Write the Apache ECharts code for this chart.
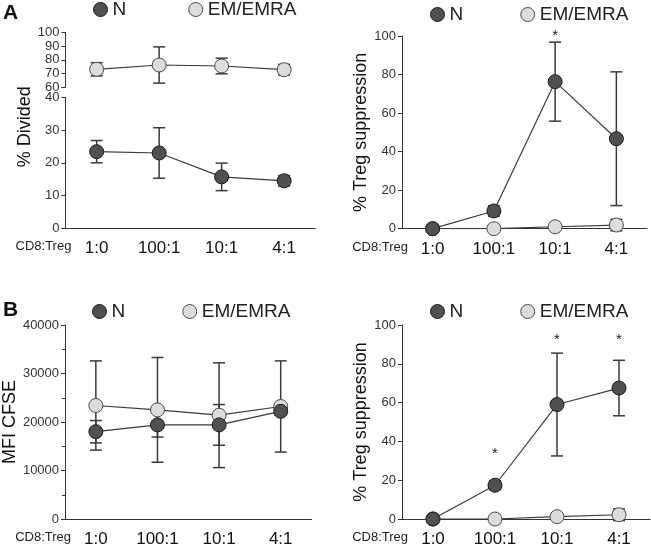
<!DOCTYPE html>
<html>
<head>
<meta charset="utf-8">
<script src="https://cdn.jsdelivr.net/npm/echarts@6/dist/echarts.min.js"></script>
<style>html,body{margin:0;padding:0;background:#fff}#chart{width:651px;height:548px}</style>
</head>
<body>
<div id="chart"></div>
<script>
const categories = ['1:0', '100:1', '10:1', '4:1'];

// A, left: % divided (broken axis)
const dividedN = [23.4, 23.0, 15.7, 14.5];
const dividedNErr = [3.4, 7.7, 4.2, 1.6];
const dividedEM = [73.1, 76.2, 75.5, 72.8];
const dividedEMErr = [4.8, 13.2, 5.7, 3.9];

// A, right: % Treg suppression
const suppANaive = [0, 9.2, 76.3, 46.7];
const suppANaiveErr = [0, 2.7, 20.5, 34.7];
const suppAEM = [0, 0, 1.0, 1.9];
const suppAEMErr = [0, 0, 0, 3];
const suppAStars = [null, null, 102, null];

// B, left: MFI CFSE
const mfiN = [18000, 19400, 19400, 22200];
const mfiNErr = [2300, 2500, 4200, 800];
const mfiEM = [23400, 22500, 21400, 23200];
const mfiEMErr = [9200, 10800, 10800, 9400];

// B, right: % Treg suppression
const suppBNaive = [0, 17.4, 59, 67.5];
const suppBNaiveErr = [0, 2.3, 26.5, 14.3];
const suppBEM = [0, 0, 1.2, 2.2];
const suppBEMErr = [0, 0, 0, 3];
const suppBStars = [null, 35.4, 94.5, 94.5];

const FONT = 'Liberation Sans, Arial, sans-serif';
const nStyle = { color: '#505050', borderColor: '#1a1a1a', borderWidth: 1 };
const emStyle = { color: '#dcdcdc', borderColor: '#4a4a4a', borderWidth: 1 };

const chart = echarts.init(document.getElementById('chart'));

const xAxis = (idx, show) => ({
    type: 'category',
    gridIndex: idx,
    data: categories,
    show: show,
    axisLine: { lineStyle: { color: '#333', width: 1 } },
    axisTick: { alignWithLabel: true, length: 4, lineStyle: { color: '#333' } },
    axisLabel: { fontSize: 17, color: '#111', margin: 12, fontFamily: FONT },
    name: 'CD8:Treg',
    nameLocation: 'start',
    nameGap: -6,
    nameTextStyle: { fontSize: 13, color: '#222', fontFamily: FONT, verticalAlign: 'top', padding: [12, 0, 0, 0] }
});

const yAxis = (idx, min, max, interval, name, extra) => Object.assign({
    type: 'value',
    gridIndex: idx,
    min: min,
    max: max,
    interval: interval,
    axisLine: { show: true, lineStyle: { color: '#333', width: 1 } },
    axisTick: { show: true, length: 4, lineStyle: { color: '#333' } },
    splitLine: { show: false },
    axisLabel: { fontSize: 13, color: '#333', margin: 6, fontFamily: FONT, formatter: v => String(v) },
    name: name,
    nameLocation: 'middle',
    nameTextStyle: { fontSize: 18, color: '#111', fontFamily: FONT }
}, extra || {});

const lineSeries = (name, data, idx, style) => ({
    name: name,
    type: 'line',
    xAxisIndex: idx,
    yAxisIndex: idx,
    data: data,
    symbol: 'circle',
    symbolSize: 14,
    itemStyle: style,
    lineStyle: { color: '#3a3a3a', width: 1.2 },
    emphasis: { disabled: true },
    z: 3
});

function renderErr(params, api) {
    const i = api.value(0), m = api.value(1), e = api.value(2);
    if (!e) return null;
    const hi = api.coord([i, m + e]);
    const lo = api.coord([i, m - e]);
    const w = 6;
    const st = { stroke: '#3a3a3a', lineWidth: 1.5 };
    return {
        type: 'group',
        children: [
            { type: 'line', shape: { x1: hi[0], y1: hi[1], x2: lo[0], y2: lo[1] }, style: st },
            { type: 'line', shape: { x1: hi[0] - w, y1: hi[1], x2: hi[0] + w, y2: hi[1] }, style: st },
            { type: 'line', shape: { x1: lo[0] - w, y1: lo[1], x2: lo[0] + w, y2: lo[1] }, style: st }
        ]
    };
}

const errSeries = (means, errs, idx) => ({
    type: 'custom',
    xAxisIndex: idx,
    yAxisIndex: idx,
    data: means.map((m, i) => [i, m, errs[i]]),
    renderItem: renderErr,
    silent: true,
    z: 2
});

function renderStar(params, api) {
    const p = api.coord([api.value(0), api.value(1)]);
    return {
        type: 'text',
        x: p[0],
        y: p[1] + 4,
        style: { text: '*', fontSize: 15, fontFamily: FONT, fill: '#222', align: 'center', verticalAlign: 'middle' }
    };
}

const starSeries = (stars, idx) => ({
    type: 'custom',
    xAxisIndex: idx,
    yAxisIndex: idx,
    data: stars.map((v, i) => [i, v]).filter(d => d[1] !== null),
    renderItem: renderStar,
    silent: true,
    clip: false,
    z: 4
});

const legend = (left, top, gap) => ({
    left: left,
    top: top,
    padding: 0,
    itemGap: gap,
    itemWidth: 14,
    itemHeight: 14,
    icon: 'circle',
    selectedMode: false,
    textStyle: { fontSize: 19, color: '#222', fontFamily: FONT },
    data: [{ name: 'N', itemStyle: nStyle }, { name: 'EM/EMRA', itemStyle: emStyle }]
});

const options = {
    animation: false,
    backgroundColor: '#fff',
    title: [
        { text: 'A', left: 3, top: 3, padding: 0, textStyle: { fontSize: 21, fontWeight: 'bold', color: '#111', fontFamily: FONT } },
        { text: 'B', left: 3, top: 300, padding: 0, textStyle: { fontSize: 21, fontWeight: 'bold', color: '#111', fontFamily: FONT } }
    ],
    legend: [
        legend(93, 0, 62),
        legend(430, 5, 57),
        legend(92, 302, 57),
        legend(430, 302, 57)
    ],
    grid: [
        { left: 65.4, top: 32.3, width: 250, height: 55 },
        { left: 65.4, top: 97.3, width: 250, height: 131 },
        { left: 402, top: 36, width: 245, height: 192.7 },
        { left: 64.5, top: 325, width: 247, height: 194.3 },
        { left: 402, top: 325, width: 248, height: 195 }
    ],
    xAxis: [xAxis(0, false), xAxis(1, true), xAxis(2, true), xAxis(3, true), xAxis(4, true)],
    yAxis: [
        yAxis(0, 60, 100, 10, ''),
        yAxis(1, 0, 40, 10, '% Divided', { nameGap: 31, nameTextStyle: { fontSize: 18, color: '#111', fontFamily: FONT, padding: [0, 0, 0, 72] } }),
        yAxis(2, 0, 100, 20, '% Treg suppression', { nameGap: 30 }),
        yAxis(3, 0, 40000, 10000, 'MFI CFSE', { nameGap: 46, minorTick: { show: true, splitNumber: 2, length: 3, lineStyle: { color: '#333' } } }),
        yAxis(4, 0, 100, 20, '% Treg suppression', { nameGap: 30 })
    ],
    series: [
        errSeries(dividedEM, dividedEMErr, 0),
        lineSeries('EM/EMRA', dividedEM, 0, emStyle),
        errSeries(dividedN, dividedNErr, 1),
        lineSeries('N', dividedN, 1, nStyle),

        errSeries(suppAEM, suppAEMErr, 2),
        errSeries(suppANaive, suppANaiveErr, 2),
        lineSeries('EM/EMRA', suppAEM, 2, emStyle),
        lineSeries('N', suppANaive, 2, nStyle),
        starSeries(suppAStars, 2),

        errSeries(mfiEM, mfiEMErr, 3),
        errSeries(mfiN, mfiNErr, 3),
        lineSeries('EM/EMRA', mfiEM, 3, emStyle),
        lineSeries('N', mfiN, 3, nStyle),

        errSeries(suppBEM, suppBEMErr, 4),
        errSeries(suppBNaive, suppBNaiveErr, 4),
        lineSeries('EM/EMRA', suppBEM, 4, emStyle),
        lineSeries('N', suppBNaive, 4, nStyle),
        starSeries(suppBStars, 4)
    ]
};

chart.setOption(options);
window.addEventListener('resize', () => chart.resize());
</script>
</body>
</html>
